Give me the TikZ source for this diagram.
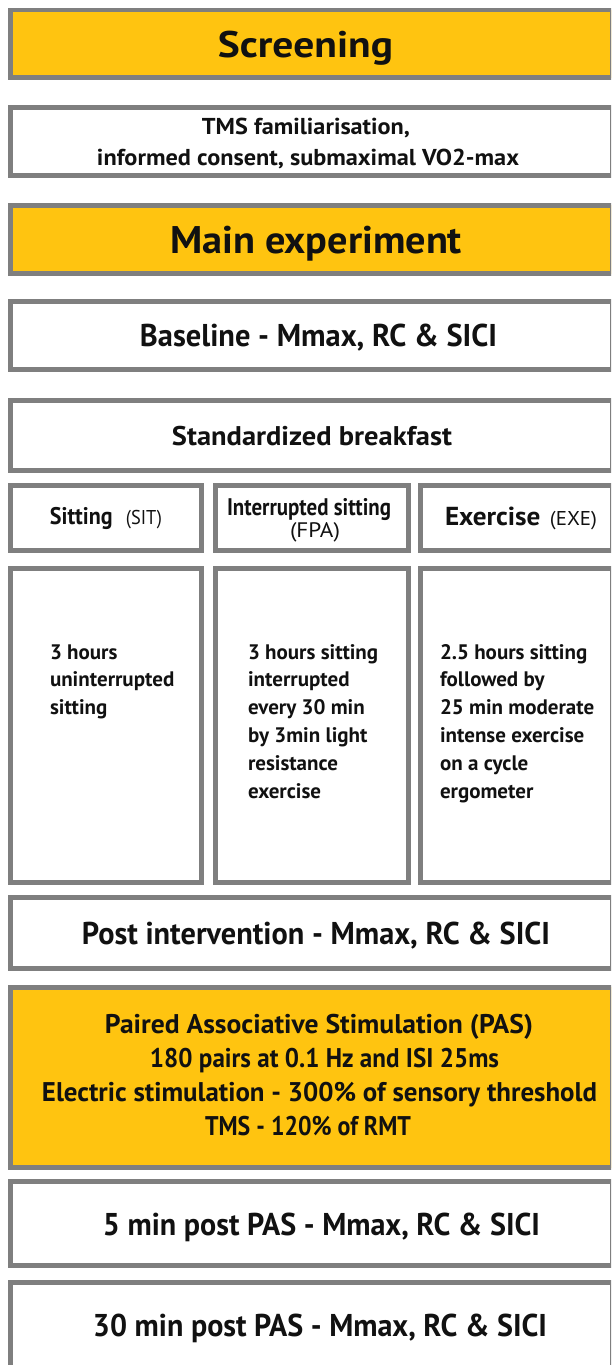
\documentclass[tikz,border=0pt]{standalone}
\usepackage{graphicx}
\usepackage{fontspec}
\setmainfont{PT Sans}
\definecolor{gold}{HTML}{FFC410}
\definecolor{bgray}{HTML}{7F7F7F}
\definecolor{ink}{HTML}{111111}
\newcommand\setfs[2]{\fontsize{#1}{#2}\selectfont\bfseries}
\newcommand\fitw[2]{\resizebox{#1pt}{\height}{#2}}
\newcommand\pbox[6]{\node[#1, minimum width={#4-#2}, minimum height={#5-#3}] (#6) at (#2,#3) {};}
\tikzset{
  frame/.style={rectangle, draw=bgray, line width=4.7pt, fill=white, inner sep=0pt, outer sep=0pt, anchor=north west},
  goldframe/.style={frame, fill=gold},
  lbl/.style={inner sep=0pt, outer sep=0pt, anchor=base, text=ink},
  body/.style={lbl, anchor=base west}
}
\begin{document}
\begin{tikzpicture}[x=1pt,y=-1pt]
\useasboundingbox (0,0) rectangle (611,1365);
\clip (0,0) rectangle (611,1365);
\fill[white] (0,0) rectangle (611,1365);
% boxes (stroke centre lines)
\pbox{goldframe}{10.35}{9.85}{612}{77.65}{screen}
\pbox{frame}{10.35}{107.35}{612}{175.65}{tms}
\pbox{goldframe}{10.35}{205.35}{612}{273.65}{main}
\pbox{frame}{10.35}{301.35}{612}{369.65}{base}
\pbox{frame}{10.35}{400.35}{612}{470.65}{bfast}
\pbox{frame}{10.35}{485.35}{201.65}{550.65}{hsit}
\pbox{frame}{215.35}{485.35}{408.65}{550.65}{hfpa}
\pbox{frame}{420.35}{485.35}{612}{550.65}{hexe}
\pbox{frame}{10.35}{568.35}{201.65}{882.65}{bsit}
\pbox{frame}{215.35}{568.35}{408.65}{882.65}{bfpa}
\pbox{frame}{420.35}{568.35}{612}{882.65}{bexe}
\pbox{frame}{10.35}{897.35}{612}{968.65}{post}
\pbox{goldframe}{10.35}{987.35}{612}{1167.65}{pas}
\pbox{frame}{10.35}{1181.35}{612}{1265.65}{five}
\pbox{frame}{10.35}{1282.35}{612}{1400}{thirty}
% texts
\node[lbl] (tscreen) at (305.5,57) {\fitw{175}{\setfs{37}{40}Screening}};
\node[lbl] (ttms1) at (306,134) {\fitw{208}{\setfs{23}{26}TMS familiarisation,}};
\node[lbl] (ttms2) at (308,165) {\fitw{422}{\setfs{23}{26}informed consent, submaximal VO2-max}};
\node[lbl] (tmain) at (316,253) {\fitw{292}{\setfs{38.5}{42}Main experiment}};
\node[lbl] (tbase) at (318.5,346.5) {\fitw{357}{\setfs{31.5}{35}Baseline - Mmax, RC \& SICI}};
\node[lbl] (tbfast) at (312,445) {\fitw{280}{\setfs{27}{30}Standardized breakfast}};
\node[lbl] (tsit) at (106,524) {\fitw{112}{\setfs{24}{26}Sitting\hspace{0.6em}{\mdseries\fontsize{20}{24}\selectfont(SIT)}}};
\node[lbl] (tfpa1) at (309,515) {\fitw{164}{\setfs{24}{26}Interrupted sitting}};
\node[lbl] (tfpa2) at (315,537) {\fitw{50}{\mdseries\fontsize{21}{24}\selectfont(FPA)}};
\node[lbl] (texe) at (521,525) {\fitw{152}{\setfs{26}{30}Exercise\hspace{0.35em}{\mdseries\fontsize{20}{24}\selectfont(EXE)}}};
\node[body] (bodysit) at (50,659) {\setfs{21}{27.8}\begin{tabular}[t]{@{}l@{}}3 hours\\ uninterrupted\\ sitting\end{tabular}};
\node[body] (bodyfpa) at (248,659) {\setfs{21}{27.8}\begin{tabular}[t]{@{}l@{}}3 hours sitting\\ interrupted\\ every 30 min\\ by 3min light\\ resistance\\ exercise\end{tabular}};
\node[body] (bodyexe) at (440,659) {\setfs{21}{27.8}\begin{tabular}[t]{@{}l@{}}2.5 hours sitting\\ followed by\\ 25 min moderate\\ intense exercise\\ on a cycle\\ ergometer\end{tabular}};
\node[lbl] (tpost) at (316,944) {\fitw{468}{\setfs{31.5}{35}Post intervention - Mmax, RC \& SICI}};
\node[lbl] (tpas1) at (319,1033) {\fitw{428}{\setfs{27}{30}Paired Associative Stimulation (PAS)}};
\node[lbl] (tpas2) at (324.5,1067) {\fitw{349}{\setfs{27}{30}180 pairs at 0.1 Hz and ISI 25ms}};
\node[lbl] (tpas3) at (319.5,1101) {\fitw{555}{\setfs{27}{30}Electric stimulation - 300\% of sensory threshold}};
\node[lbl] (tpas4) at (308,1135) {\fitw{206}{\setfs{27}{30}TMS - 120\% of RMT}};
\node[lbl] (tfive) at (321.5,1235) {\fitw{437}{\setfs{31.5}{35}5 min post PAS - Mmax, RC \& SICI}};
\node[lbl] (tthirty) at (320,1336) {\fitw{454}{\setfs{31.5}{35}30 min post PAS - Mmax, RC \& SICI}};
\end{tikzpicture}
\end{document}
